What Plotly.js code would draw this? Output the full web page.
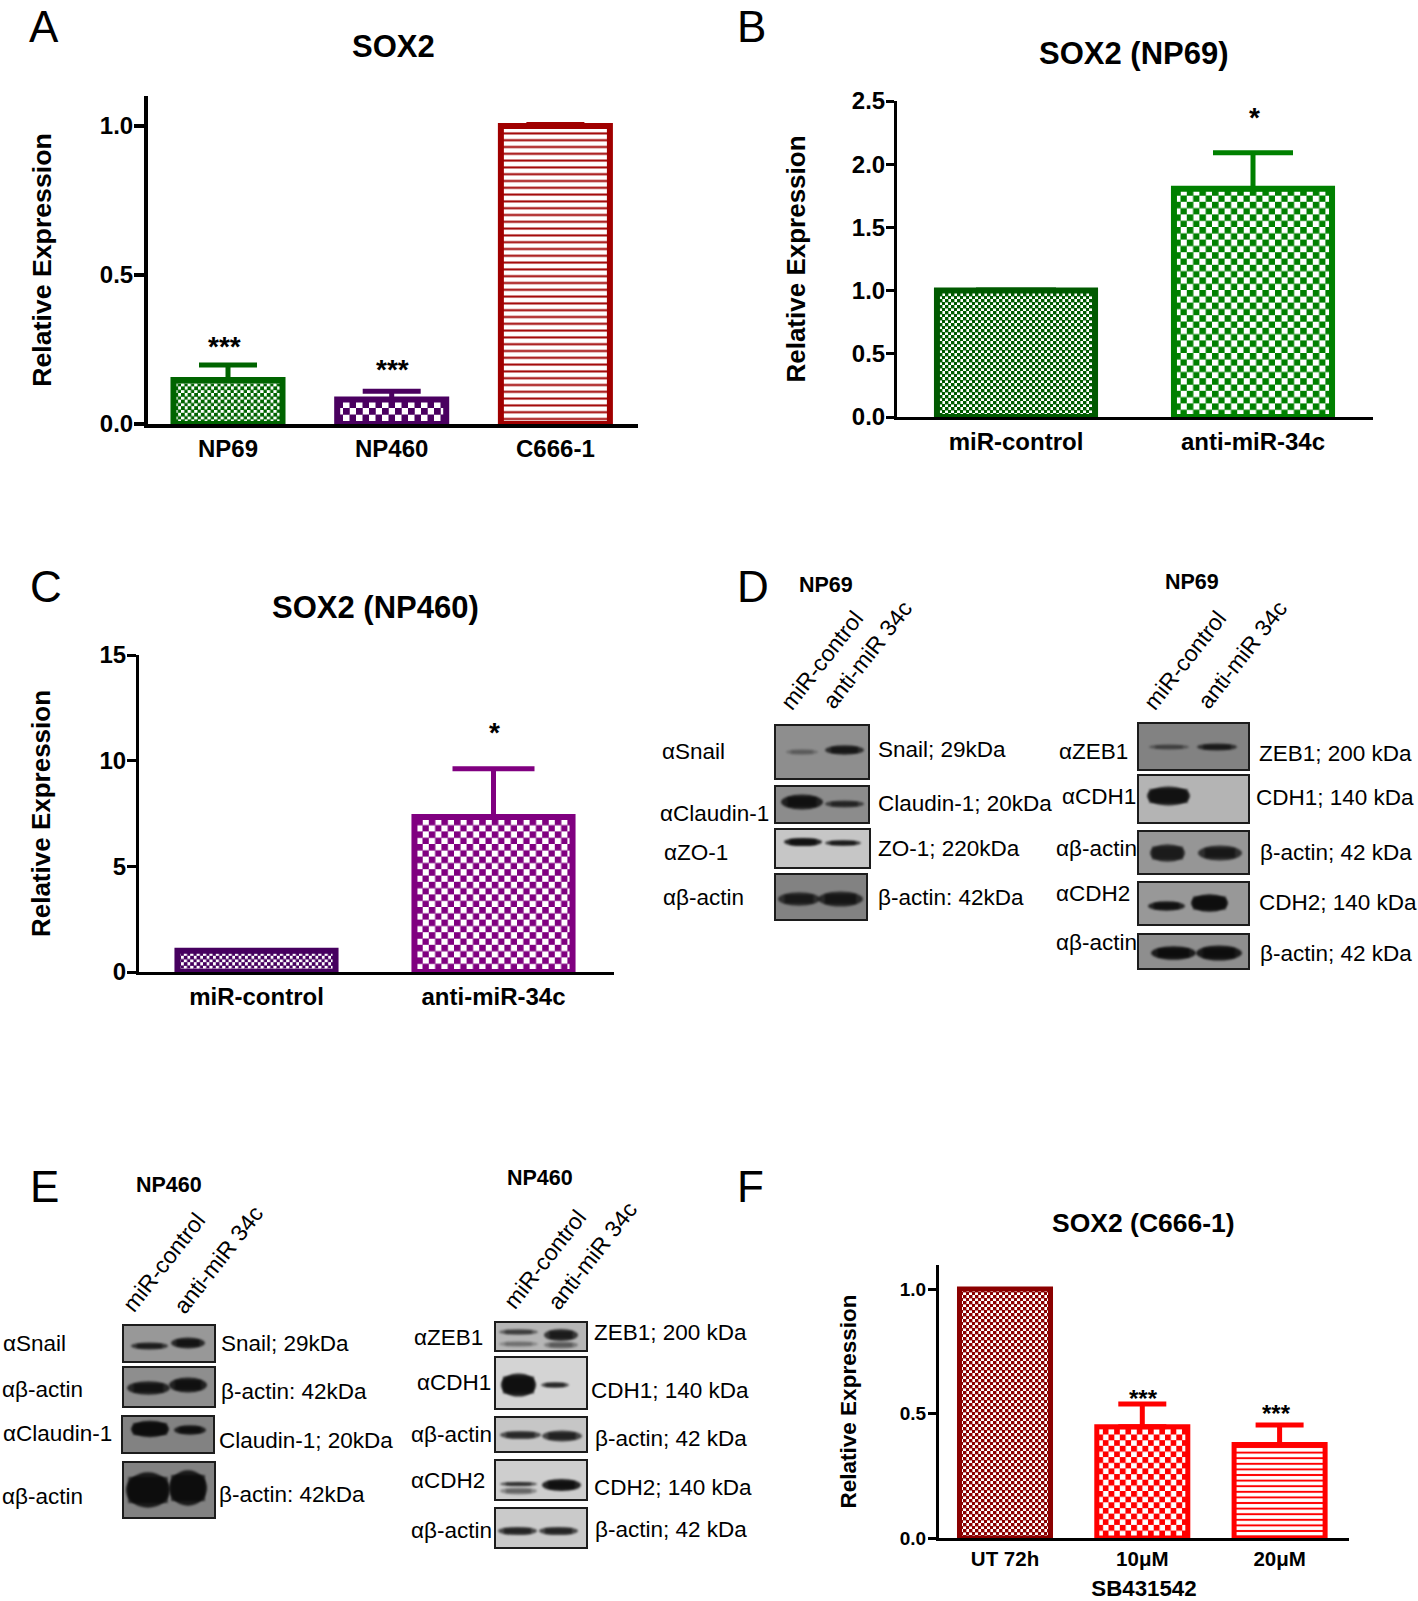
<!DOCTYPE html>
<html><head><meta charset="utf-8">
<script src="https://cdn.plot.ly/plotly-3.0.1.min.js"></script>
<style>html,body{margin:0;padding:0;background:#fff}#g{width:1418px;height:1601px}</style>
</head><body><div id="g"></div>
<script>
// ---- chart values ----
const categoriesA = ['NP69','NP460','C666-1'];
const valuesA = [0.148,0.082,1.0];
const errorTopA = [0.198,0.11,1.005];
const categoriesB = ['miR-control','anti-miR-34c'];
const valuesB = [1.0,1.805];
const errorTopB = [1.005,2.09];
const categoriesC = ['miR-control','anti-miR-34c'];
const valuesC = [1.0,7.33];
const errorTopC = [1.02,9.62];
const categoriesF = ['UT 72h','10μM','20μM'];
const valuesF = [1.0,0.447,0.375];
const errorTopF = [1.0,0.538,0.454];

const W=1418,H=1601,FONT='"Liberation Sans", Arial, sans-serif';
const PX=x=>x/W, PY=y=>1-y/H;

// ---- panel layout ----
const panels=[
 {id:'',  cats:categoriesA,vals:valuesA,top:errorTopA,L:148,R:638,T:96,B:424,c0:228,step:163.7,unit:298,ticks:[0,0.5,1],fmt:'.1f',
  lw:4,tl:10,tw:4,tf:24,cf:24,barw:.666,blw:6,cap:29,et:5,xtl:0,lab:-4,
  line:['#006400','#4a0060','#a00000'],shape:['.','.','-'],size:[6.6,13,6.8],sol:[.5,.5,.3],
  ytitle:26.7,standoff:41},
 {id:'2', cats:categoriesB,vals:valuesB,top:errorTopB,L:897,R:1373,T:101,B:417,c0:1016,step:237,unit:126.4,ticks:[0,.5,1,1.5,2,2.5],fmt:'.1f',
  lw:3,tl:8,tw:3,tf:24,cf:24,barw:.667,blw:6,cap:40,et:5,xtl:1,lab:-4,
  line:['#005a00','#008000'],shape:['.','.'],size:[6,12.6],sol:[.5,.5],
  ytitle:26,standoff:39},
 {id:'3', cats:categoriesC,vals:valuesC,top:errorTopC,L:139,R:614,T:655,B:972,c0:256.5,step:237,unit:21.13,ticks:[0,5,10,15],fmt:'d',
  lw:3,tl:9,tw:3,tf:24,cf:24,barw:.667,blw:6,cap:41,et:5,xtl:1,lab:-4,
  line:['#46005f','#800080'],shape:['.','.'],size:[6.4,12.6],sol:[.5,.5],
  ytitle:26,standoff:42},
 {id:'4', cats:categoriesF,vals:valuesF,top:errorTopF,L:939,R:1349,T:1265,B:1538,c0:1005,step:137.3,unit:249,ticks:[0,.5,1],fmt:'.1f',
  lw:3,tl:8,tw:3,tf:19,cf:20.5,barw:.663,blw:5,cap:24,et:5,xtl:0,lab:-2,
  line:['#8b0000','#ff0000','#ff0000'],shape:['.','.','-'],size:[6,11.3,5.6],sol:[.5,.5,.35],
  ytitle:22.5,standoff:37,xtitle:'SB431542'}
];

const data=[],layout={width:W,height:H,margin:{l:0,r:0,t:0,b:0},paper_bgcolor:'#fff',plot_bgcolor:'#fff',barmode:'overlay',
  showlegend:false,font:{family:FONT,color:'#000'},annotations:[],shapes:[]};

panels.forEach(p=>{
  p.cats.forEach((c,i)=>{
    data.push({type:'bar',name:c,x:[c],y:[p.vals[i]],xaxis:'x'+p.id,yaxis:'y'+p.id,width:p.barw,hoverinfo:'skip',
      marker:{color:'#fff',line:{color:p.line[i],width:p.blw},
        pattern:{shape:p.shape[i],size:p.size[i],solidity:p.sol[i],fgcolor:p.line[i],bgcolor:'#fff',fillmode:'replace'}},
      error_y:{type:'data',symmetric:false,array:[p.top[i]-p.vals[i]],arrayminus:[0],color:p.line[i],thickness:p.et,width:p.cap,visible:p.top[i]>p.vals[i]}
    });
  });
  layout['xaxis'+p.id]={domain:[PX(p.L),PX(p.R)],anchor:'y'+p.id,type:'category',categoryorder:'array',categoryarray:p.cats,
    range:[(p.L-p.c0)/p.step,(p.R-p.c0)/p.step],showgrid:false,zeroline:false,showline:true,linecolor:'#000',linewidth:p.lw,
    ticks:'outside',ticklen:p.xtl,tickwidth:1,tickcolor:'rgba(0,0,0,0)',tickfont:{family:FONT,size:p.cf,color:'#000',weight:700},fixedrange:true,
    title:p.xtitle?{text:p.xtitle,font:{family:FONT,size:22.3,color:'#000',weight:700},standoff:24}:undefined};
  const ymax=Math.max((p.B-p.T)/p.unit,p.ticks[p.ticks.length-1]);
  layout['yaxis'+p.id]={domain:[PY(p.B),PY(p.T)],anchor:'x'+p.id,range:[0,ymax],showgrid:false,zeroline:false,showline:true,
    linecolor:'#000',linewidth:p.lw,ticks:'outside',ticklen:p.tl,tickwidth:p.tw,tickcolor:'#000',tickvals:p.ticks,tickformat:p.fmt,
    ticklabelstandoff:p.lab,tickfont:{family:FONT,size:p.tf,color:'#000',weight:700},fixedrange:true,
    title:{text:'Relative Expression',font:{family:FONT,size:p.ytitle,color:'#000',weight:700},standoff:p.standoff}};
});

function txt(t,x,y,size,opts){layout.annotations.push(Object.assign({text:t,xref:'paper',yref:'paper',x:PX(x),y:PY(y),showarrow:false,
  xanchor:'left',yanchor:'middle',font:{family:FONT,size:size,color:'#000'}},opts||{}));}
function center(t,x,y,size,bold){txt(t,x,y,size,{xanchor:'center',font:{family:FONT,size:size,color:'#000',weight:bold?700:400}});}

// panel letters
[['A',44,26],['B',752,26],['C',46,586],['D',753,586],['E',44,1186],['F',751,1186]].forEach(a=>center(a[0],a[1],a[2],44));
// chart titles
center('SOX2',393,47,31,true);
center('SOX2 (NP69)',1134,53,31,true);
center('SOX2 (NP460)',376,608,31,true);
center('SOX2 (C666-1)',1143,1223,26.5,true);
// significance marks
[['***',224,347,28],['***',392,369,28],['*',1254,118,28],['*',494,732,28],['***',1143,1398,24],['***',1276,1413,24]].forEach(a=>center(a[0],a[1],a[2],a[3],true));

// ---- western blot labels ----
const blotLabels=[
 ['αSnail',660,751],['αClaudin-1',658,813],['αZO-1',662,852],['αβ-actin',661,897],
 ['Snail; 29kDa',876,749],['Claudin-1; 20kDa',876,803],['ZO-1; 220kDa',876,848],['β-actin: 42kDa',876,897],
 ['αZEB1',1057,751],['αCDH1',1060,796],['αβ-actin',1054,848],['αCDH2',1054,894],['αβ-actin',1054,943],
 ['ZEB1; 200 kDa',1257,753],['CDH1; 140 kDa',1254,797],['β-actin; 42 kDa',1258,852],['CDH2; 140 kDa',1257,902],['β-actin; 42 kDa',1258,953],
 ['αSnail',1,1343],['αβ-actin',0,1389],['αClaudin-1',1,1433],['αβ-actin',0,1496],
 ['Snail; 29kDa',219,1343],['β-actin: 42kDa',219,1391],['Claudin-1; 20kDa',217,1440],['β-actin: 42kDa',217,1494],
 ['αZEB1',412,1337],['αCDH1',415,1382],['αβ-actin',409,1434],['αCDH2',409,1480],['αβ-actin',409,1530],
 ['ZEB1; 200 kDa',592,1332],['CDH1; 140 kDa',589,1390],['β-actin; 42 kDa',593,1438],['CDH2; 140 kDa',592,1487],['β-actin; 42 kDa',593,1529]
];
blotLabels.forEach(l=>txt(l[0],l[1],l[2],22.5));
[['NP69',826,585],['NP69',1192,582],['NP460',169,1185],['NP460',540,1178]].forEach(l=>center(l[0],l[1],l[2],21.5,true));
const laneLabels=[
 ['miR-control',822,660],['anti-miR 34c',867,655],['miR-control',1185,660],['anti-miR 34c',1242,655],
 ['miR-control',164,1262],['anti-miR 34c',218,1260],['miR-control',545,1259],['anti-miR 34c',592,1256]
];
laneLabels.forEach(l=>txt(l[0],l[1],l[2],23,{xanchor:'center',textangle:-52}));

// ---- western blot panels: frame [x0,y0,x1,y1], grey, then bands [x0,x1,yc,h,darkness] ----
const blots=[
 [[775,725,869,779],'#8e8e8e',[[787,817,752,4,.28],[826,863,750,7,.85]]],
 [[775,786,869,823],'#8c8c8c',[[782,822,802,11,.95],[826,863,804,5,.7]]],
 [[775,829,870,868],'#c6c6c6',[[785,821,842,6,1],[826,860,843,4,.9]]],
 [[775,874,867,920],'#828282',[[779,819,899,10,.8],[819,862,899,11,.85]]],
 [[1138,723,1249,770],'#828282',[[1150,1188,747,3.5,.45],[1198,1236,747,5,.8]]],
 [[1138,775,1249,823],'#b4b4b4',[[1148,1189,796,14,.95]]],
 [[1138,831,1249,874],'#969696',[[1151,1184,853,13,.8],[1199,1241,853,11,.85]]],
 [[1138,882,1249,925],'#989898',[[1149,1184,906,7,.95],[1192,1227,903,13,1]]],
 [[1138,934,1249,969],'#8e8e8e',[[1152,1195,953,10,1],[1197,1241,953,11,1]]],
 [[123,1325,215,1362],'#989898',[[132,167,1346,5,.8],[172,204,1343,8,.9]]],
 [[123,1367,215,1407],'#8e8e8e',[[128,169,1388,10,.9],[170,206,1385,11,.95]]],
 [[122,1416,214,1453],'#828282',[[132,168,1429,12,1],[175,205,1430,7,.95]]],
 [[123,1462,215,1518],'#828282',[[127,169,1490,26,1],[170,206,1488,26,1]]],
 [[495,1322,587,1351],'#b6b6b6',[[500,537,1332,4,.6],[500,537,1344,4,.3],[545,577,1335,9,.85],[545,577,1345,5,.4]]],
 [[495,1357,587,1409],'#d4d4d4',[[502,535,1385,17,1],[542,568,1385,4,.8]]],
 [[495,1417,587,1452],'#c6c6c6',[[501,540,1435,6,.75],[543,581,1436,8,.8]]],
 [[495,1460,587,1500],'#cecece',[[501,536,1484,3,.75],[501,536,1491,5,.4],[543,580,1485,9,1]]],
 [[495,1508,587,1548],'#cacaca',[[499,536,1531,6,.8],[540,577,1531,6,.8]]]
];
blots.forEach(b=>layout.shapes.push({type:'rect',xref:'paper',yref:'paper',x0:PX(b[0][0]),x1:PX(b[0][2]),y0:PY(b[0][3]),y1:PY(b[0][1]),
  fillcolor:b[1],line:{color:'#1c1c1c',width:2}}));
const nFrames=layout.shapes.length;
blots.forEach(b=>b[2].forEach(s=>{
  const w=s[1]-s[0],inset=s[3]>=12?.03:.14,core=s[3]>=12?.5:.42;
  // tapered body + solid core, softened below
  layout.shapes.push({type:'circle',xref:'paper',yref:'paper',x0:PX(s[0]-1),x1:PX(s[1]+1),
    y0:PY(s[2]+s[3]*.68),y1:PY(s[2]-s[3]*.68),fillcolor:'#080808',opacity:Math.min(1,s[4]*.85),line:{width:0}});
  layout.shapes.push({type:'rect',xref:'paper',yref:'paper',x0:PX(s[0]+w*inset),x1:PX(s[1]-w*inset),
    y0:PY(s[2]+s[3]*core),y1:PY(s[2]-s[3]*core),fillcolor:'#080808',opacity:s[4]*.7,line:{width:0}});
}));

Plotly.newPlot('g',data,layout,{staticPlot:true,displayModeBar:false}).then(gd=>{
  // dot pattern cells -> square checker cells (dark cells slightly larger, as in the figure)
  gd.querySelectorAll('pattern').forEach(pt=>{
    const c=pt.querySelector('circle'); if(!c) return;
    const w=parseFloat(pt.getAttribute('width')),fill=c.getAttribute('fill')||c.style.fill,s=w*(w<8?.57:.52);
    c.remove();
    [[0,0],[w/2,w/2]].forEach(o=>{
      const r=document.createElementNS('http://www.w3.org/2000/svg','rect');
      r.setAttribute('x',o[0]);r.setAttribute('y',o[1]);r.setAttribute('width',s);r.setAttribute('height',s);r.setAttribute('fill',fill);
      pt.appendChild(r);
    });
  });
  // soften the blot bands
  gd.querySelectorAll('.shapelayer path').forEach(p=>{
    if(+p.getAttribute('data-index')>=nFrames) p.style.filter='blur(1.2px)';
  });
});
</script></body></html>
